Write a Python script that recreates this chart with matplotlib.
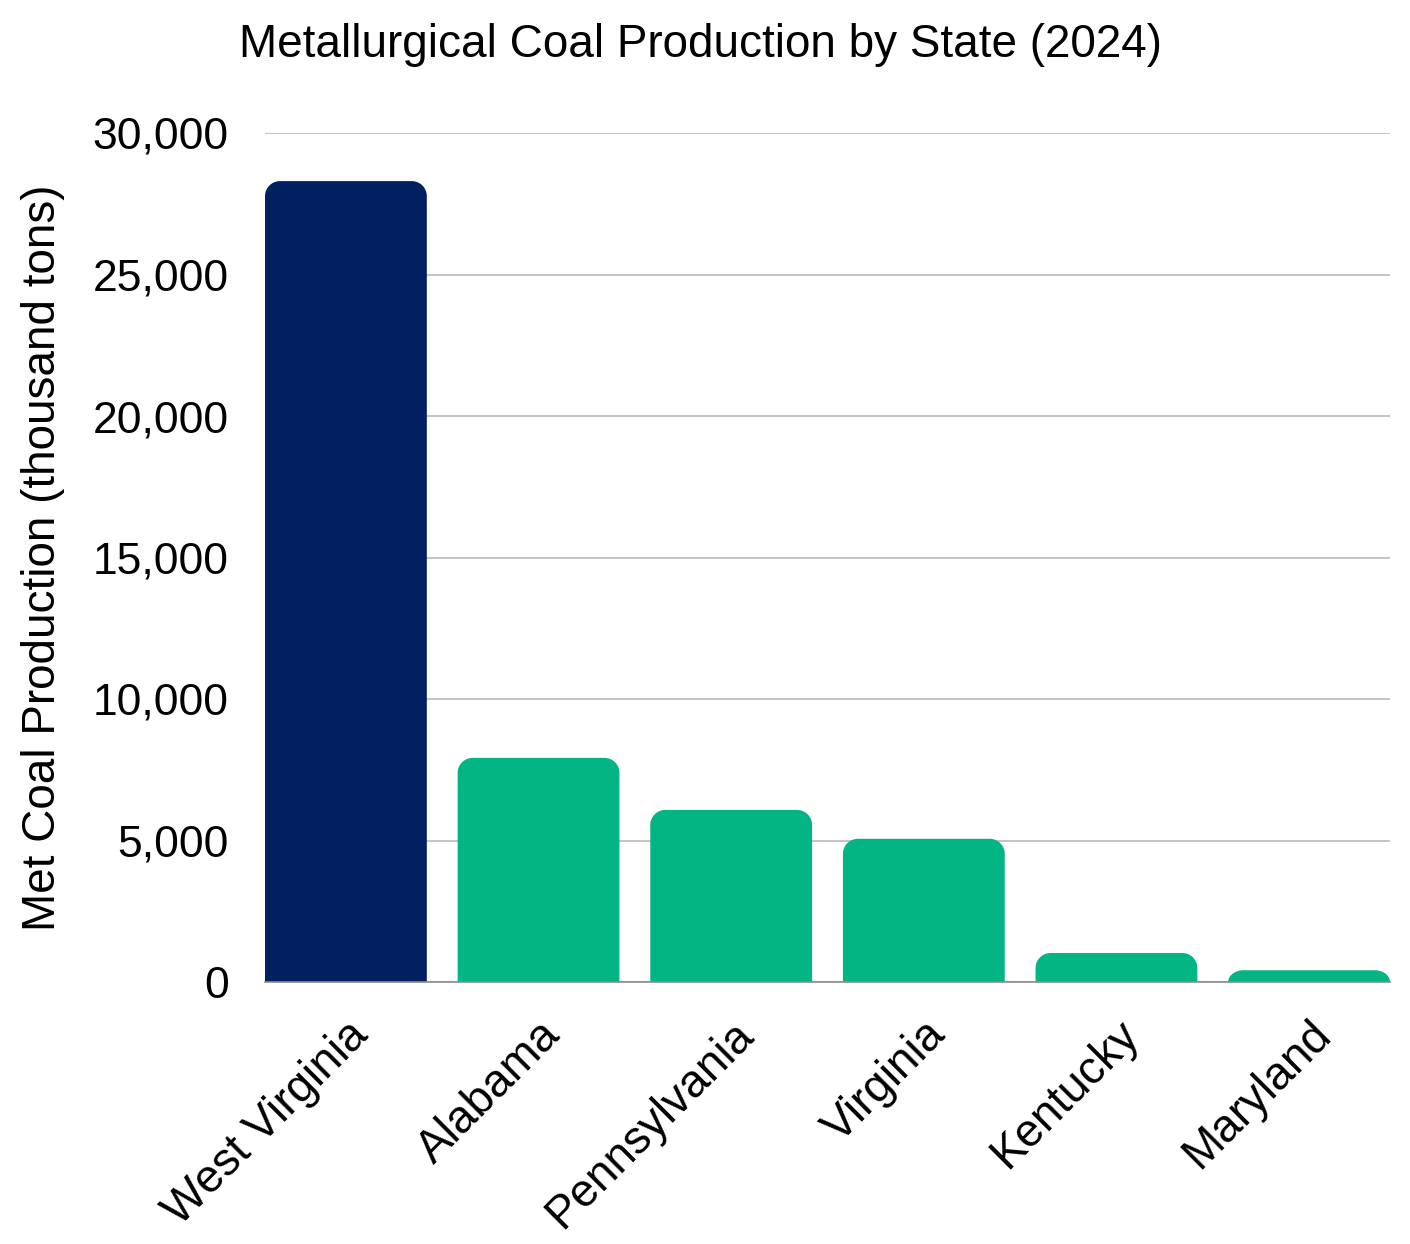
#!/usr/bin/env python3
"""Metallurgical coal production by state, 2024 - bar chart with rounded tops."""

import matplotlib
matplotlib.use("Agg")
import matplotlib.pyplot as plt
from matplotlib.path import Path
from matplotlib.patches import PathPatch
from matplotlib.ticker import FuncFormatter

states = ["West Virginia", "Alabama", "Pennsylvania", "Virginia", "Kentucky", "Maryland"]
production = [28300, 7920, 6080, 5060, 1025, 415]  # thousand tons
bar_colors = ["#022060", "#04B584", "#04B584", "#04B584", "#04B584", "#04B584"]

plt.rcParams["font.family"] = ["Liberation Sans", "DejaVu Sans"]


def rounded_top_path(x0, w, h, rx, ry):
    """Bar outline in data coords with the two top corners rounded."""
    ry = min(ry, h)
    k = 0.5523
    x1 = x0 + w
    verts = [
        (x0, 0), (x0, h - ry),
        (x0, h - ry + k * ry), (x0 + rx - k * rx, h), (x0 + rx, h),
        (x1 - rx, h),
        (x1 - rx + k * rx, h), (x1, h - ry + k * ry), (x1, h - ry),
        (x1, 0), (x0, 0),
    ]
    codes = [Path.MOVETO, Path.LINETO,
             Path.CURVE4, Path.CURVE4, Path.CURVE4,
             Path.LINETO,
             Path.CURVE4, Path.CURVE4, Path.CURVE4,
             Path.LINETO, Path.CLOSEPOLY]
    return Path(verts, codes)


W, H = 1410, 1244
fig = plt.figure(figsize=(W / 100, H / 100), dpi=100)
ax = fig.add_axes([265 / W, (H - 982) / H, (1390 - 265) / W, (982 - 133) / H])

bar_width = 0.84
bars = ax.bar(range(len(states)), production, width=bar_width, color=bar_colors)
ax.set_xlim(-bar_width / 2, len(states) - 1 + bar_width / 2)
ax.set_ylim(0, 30000)

# swap the square bars for ones with rounded top corners
radius_px = 15
p0 = ax.transData.transform((0, 0))
p1 = ax.transData.transform((1, 1000))
rx = radius_px / (p1[0] - p0[0])
ry = radius_px / ((p1[1] - p0[1]) / 1000)
for rect, col in zip(bars, bar_colors):
    rect.set_visible(False)
    path = rounded_top_path(rect.get_x(), rect.get_width(), rect.get_height(), rx, ry)
    ax.add_patch(PathPatch(path, facecolor=col, edgecolor="none", zorder=2))

ax.set_yticks(range(0, 30001, 5000))
ax.yaxis.set_major_formatter(FuncFormatter(lambda v, _: f"{int(v):,}"))
ax.grid(axis="y", color="#c4c4c4", linewidth=1.4, zorder=0)
ax.set_axisbelow(True)
ax.tick_params(axis="y", length=0, pad=26, labelsize=32)
ax.tick_params(axis="x", length=0, pad=22, labelsize=33)
ax.set_xticks(range(len(states)))
ax.set_xticklabels(states, rotation=45, ha="right", rotation_mode="anchor")

for side in ["top", "right", "left"]:
    ax.spines[side].set_visible(False)
ax.spines["bottom"].set_color("#8c8c8c")
ax.spines["bottom"].set_linewidth(1.2)
ax.spines["bottom"].set_zorder(3)

ax.set_ylabel("Met Coal Production (thousand tons)", fontsize=33, labelpad=20)
fig.text(0.497, 1 - 45 / H, "Metallurgical Coal Production by State (2024)",
         ha="center", va="center", fontsize=33)

fig.savefig("out.png", dpi=100)
